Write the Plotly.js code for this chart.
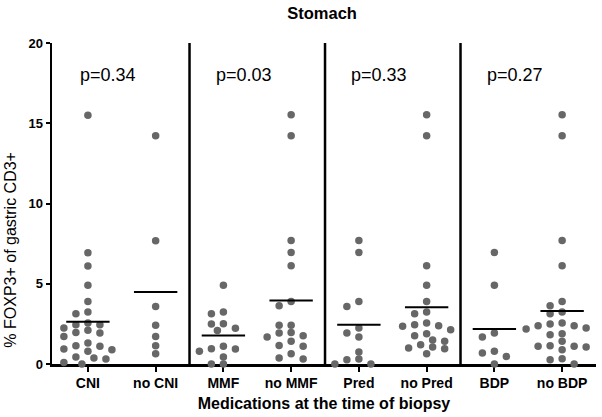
<!DOCTYPE html>
<html>
<head>
<meta charset="utf-8">
<script src="https://cdn.plot.ly/plotly-3.0.1.min.js"></script>
<style>html,body{margin:0;padding:0;background:#fff;}#chart{width:602px;height:417px;}</style>
</head>
<body>
<div id="chart"></div>
<script>
// ---- data ----
const categories = ['CNI', 'no CNI', 'MMF', 'no MMF', 'Pred', 'no Pred', 'BDP', 'no BDP'];
const valsCNI = [15.5, 6.93, 6.1, 4.9, 3.9, 3.24, 3.13, 2.45, 1.97, 1.10, 2.24, 1.72, 1.31, 0.89, 0.44, 2.45, 1.93, 1.14, 0.79, 0.37, 2.55, 2.10, 0.93, 0.31, 0.0, 0.1];
const valsNoCNI = [14.22, 7.68, 3.59, 2.41, 1.72, 1.14, 0.64];
const valsMMF = [4.90, 3.24, 3.13, 2.49, 2.09, 2.22, 2.51, 1.10, 0.93, 0.79, 0.95, 0.44, 0.0, 0.0];
const valsNoMMF = [15.53, 14.22, 7.70, 6.95, 6.12, 3.90, 3.63, 2.41, 2.41, 1.93, 1.97, 1.68, 1.76, 1.41, 1.16, 1.10, 0.64, 0.31, 0.37];
const valsPred = [7.70, 6.95, 3.90, 3.59, 2.24, 1.68, 1.93, 0.75, 0.27, 0.0, 0.0, 0.31];
const valsNoPred = [15.53, 14.22, 6.12, 4.90, 3.90, 3.13, 3.24, 2.14, 2.45, 2.38, 2.55, 2.35, 1.76, 1.89, 1.20, 1.41, 1.0, 0.95, 1.06, 0.64, 1.5];
const valsBDP = [6.95, 4.90, 1.93, 1.68, 0.68, 0.79, 0.47, 0.0];
const valsNoBDP = [15.53, 14.22, 7.70, 6.12, 3.90, 3.63, 3.24, 3.13, 2.49, 2.18, 2.38, 2.38, 2.55, 2.24, 1.82, 1.41, 1.89, 1.10, 1.10, 0.89, 1.14, 1.06, 0.33, 0.0, 0.27];
const groups = [valsCNI, valsNoCNI, valsMMF, valsNoMMF, valsPred, valsNoPred, valsBDP, valsNoBDP];
const pLabels = ['p=0.34', 'p=0.03', 'p=0.33', 'p=0.27'];
const yTicks = [0, 5, 10, 15, 20];

// ---- layout geometry ----
const W = 602, H = 417;
const M = {l: 52, r: 6.4, t: 43.3, b: 52.7};
const xRange = [-0.53, 7.5];
const yRange = [0, 20];
const pxPerX = (W - M.l - M.r) / (xRange[1] - xRange[0]);
const pxPerY = (H - M.t - M.b) / (yRange[1] - yRange[0]);

// beeswarm placement (pixel-space collision on a half-column grid, converted back to axis units)
function swarm(vals) {
  const idx = vals.map((v, i) => i).sort((a, b) => vals[b] - vals[a]);
  const placed = [];
  const offs = new Array(vals.length);
  const sx = 11.5, sy = 7, step = 6;
  idx.forEach(i => {
    const py = vals[i] * pxPerY;
    let best = 0;
    for (let k = 0; k < 60; k++) {
      const cand = (k % 2 === 0 ? 1 : -1) * Math.ceil(k / 2) * step;
      let ok = true;
      for (const p of placed) {
        const dx = (cand - p.x) / sx, dy = (py - p.y) / sy;
        if (dx * dx + dy * dy < 1) { ok = false; break; }
      }
      if (ok) { best = cand; break; }
    }
    placed.push({x: best, y: py});
    offs[i] = best / pxPerX;
  });
  return offs;
}

const traces = [];
groups.forEach((vals, g) => {
  const offs = swarm(vals);
  traces.push({
    type: 'scatter', mode: 'markers',
    x: vals.map((v, i) => g + offs[i]), y: vals,
    marker: {color: '#676767', size: 7.5, line: {width: 0}},
    cliponaxis: false, hoverinfo: 'y', showlegend: false
  });
  const mean = vals.reduce((a, b) => a + b, 0) / vals.length;
  traces.push({
    type: 'scatter', mode: 'lines',
    x: [g - 0.32, g + 0.32], y: [mean, mean],
    line: {color: '#000', width: 2}, cliponaxis: false, hoverinfo: 'skip', showlegend: false
  });
});

const shapes = [1.5, 3.5, 5.5].map(x => ({
  type: 'line', xref: 'x', yref: 'y', x0: x, x1: x, y0: 0, y1: 20.45,
  line: {color: '#000', width: 2.5}
}));

const annotations = pLabels.map((t, k) => ({
  text: t, x: 2 * k + 0.3, y: 18, xref: 'x', yref: 'y', showarrow: false,
  xanchor: 'center', yanchor: 'middle',
  font: {family: 'Liberation Sans, Arial, sans-serif', size: 18, color: '#000'}
}));
annotations.push({
  text: '% FOXP3+ of gastric CD3+', textangle: -90, xref: 'paper', yref: 'paper',
  x: (11 - M.l) / (W - M.l - M.r), y: (H - M.b - 250) / (H - M.t - M.b),
  xanchor: 'center', yanchor: 'middle', showarrow: false,
  font: {family: 'Liberation Sans, Arial, sans-serif', size: 16, color: '#000'}
});

const layout = {
  width: W, height: H,
  margin: M,
  paper_bgcolor: '#fff', plot_bgcolor: '#fff',
  title: {text: 'Stomach', x: 0.535, xanchor: 'center', y: 0.968, yanchor: 'middle',
    font: {family: 'Liberation Sans, Arial, sans-serif', size: 16.5, weight: 'bold', color: '#000'}},
  xaxis: {
    range: xRange, tickmode: 'array', tickvals: categories.map((c, i) => i), ticktext: categories,
    showgrid: false, zeroline: false, showline: true, linecolor: '#000', linewidth: 2.5,
    ticks: 'outside', ticklen: 5, tickwidth: 2, tickcolor: '#000', layer: 'below traces',
    tickfont: {family: 'Liberation Sans, Arial, sans-serif', size: 14, weight: 'bold', color: '#000'},
    title: {text: 'Medications at the time of biopsy', standoff: 8,
      font: {family: 'Liberation Sans, Arial, sans-serif', size: 16, weight: 'bold', color: '#000'}}
  },
  yaxis: {
    range: yRange, tickmode: 'array', tickvals: yTicks, ticktext: yTicks.map(String),
    showgrid: false, zeroline: false, showline: true, linecolor: '#000', linewidth: 2.5,
    ticks: 'outside', ticklen: 4, tickwidth: 2, tickcolor: '#000', layer: 'below traces',
    tickfont: {family: 'Liberation Sans, Arial, sans-serif', size: 13, weight: 'bold', color: '#000'}
  },
  shapes: shapes,
  annotations: annotations,
  showlegend: false
};

Plotly.newPlot('chart', traces, layout, {staticPlot: true, displayModeBar: false});
</script>
</body>
</html>
